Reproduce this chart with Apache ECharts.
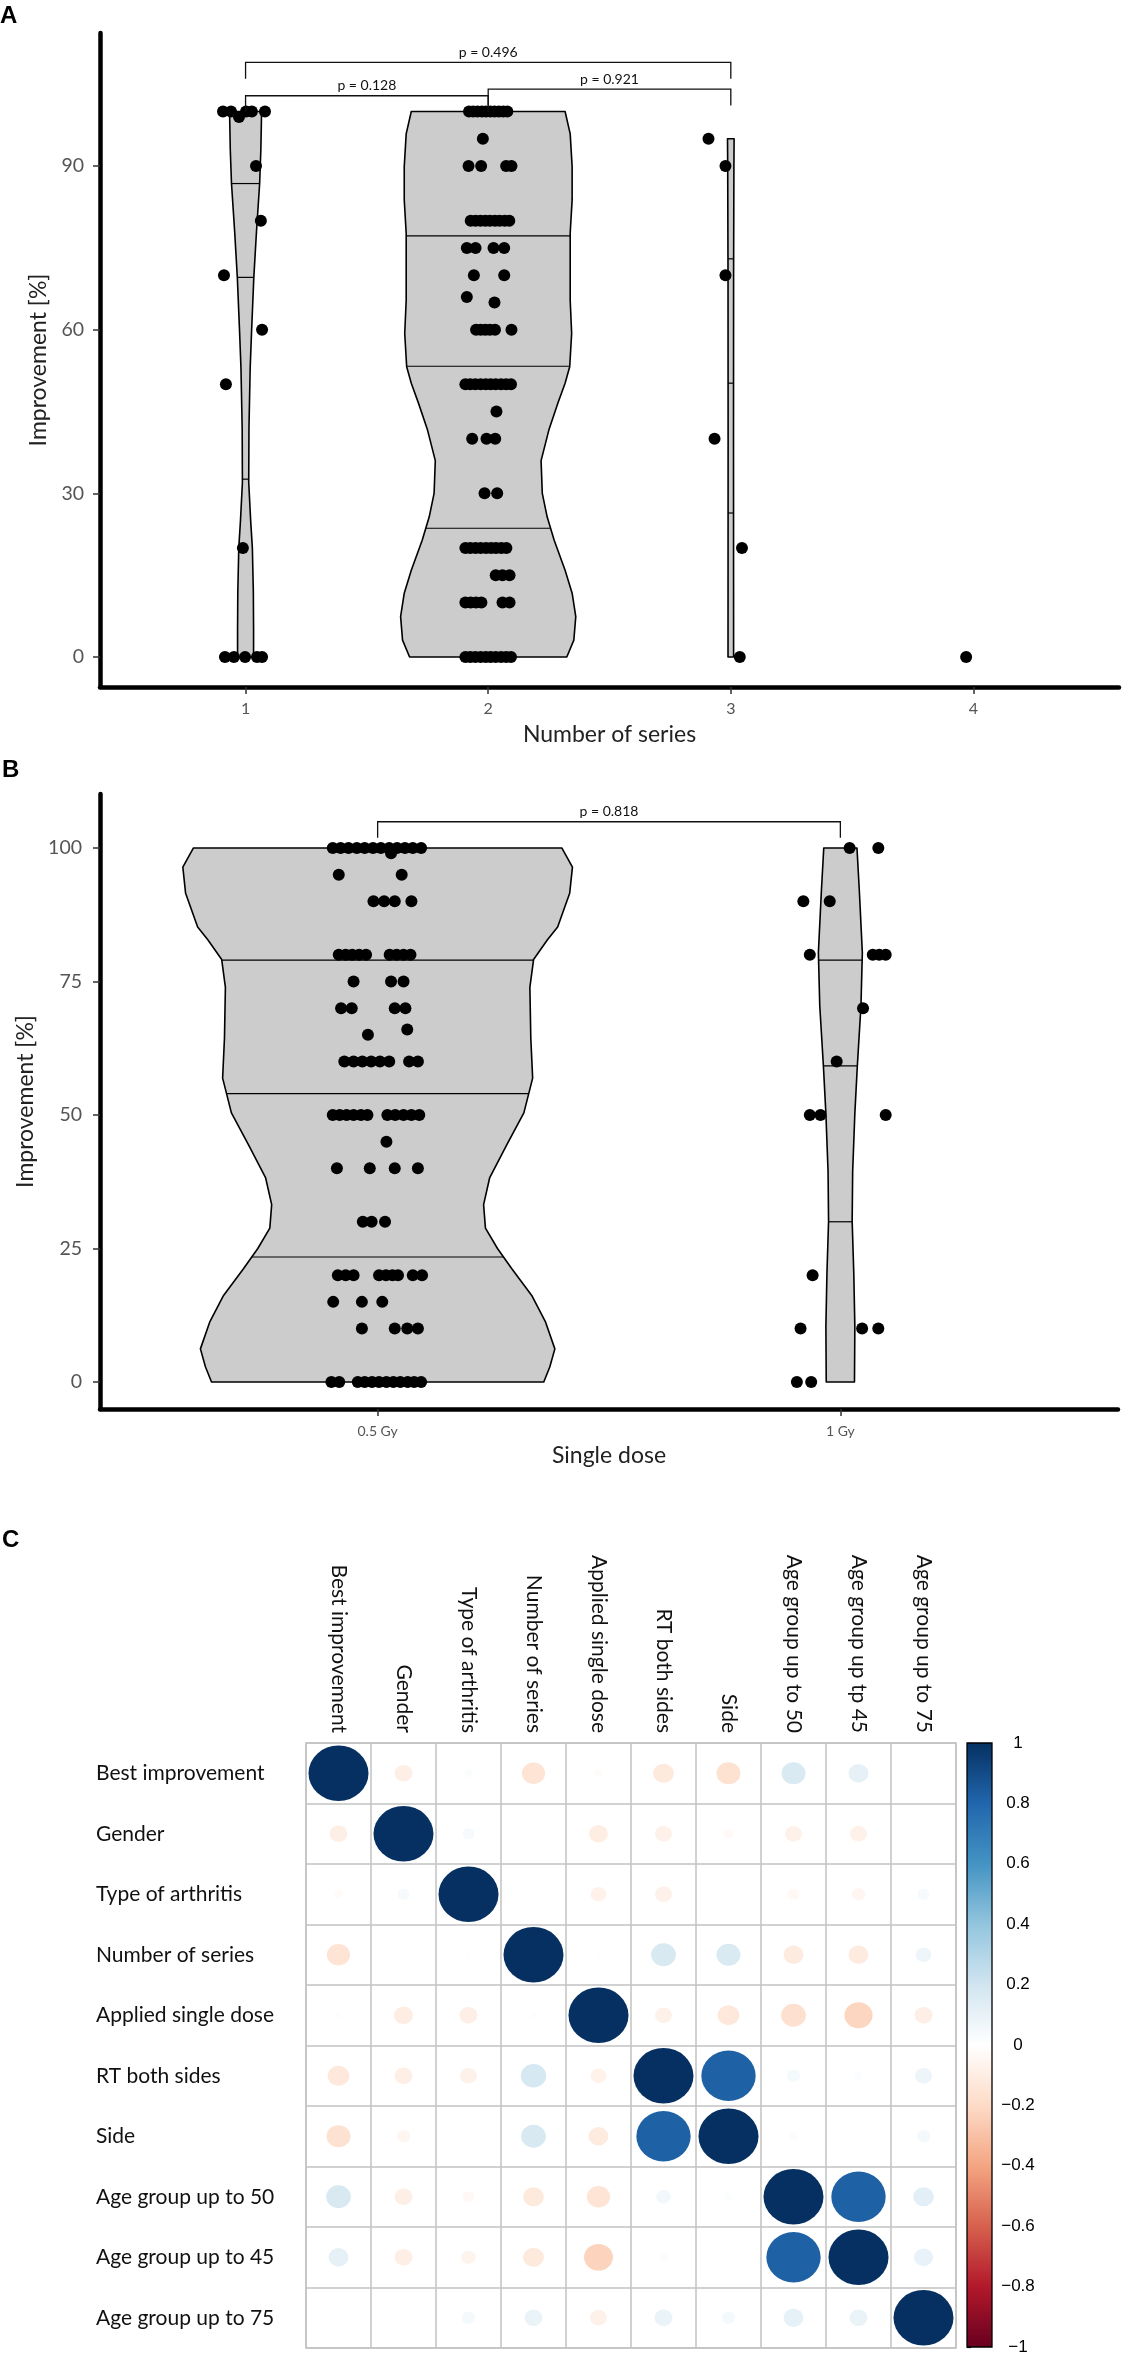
<!DOCTYPE html>
<html><head><meta charset="utf-8">
<script src="https://cdn.jsdelivr.net/npm/echarts@6/dist/echarts.min.js"></script>
<style>html,body{margin:0;padding:0;background:#fff}#c{width:1127px;height:2362px}</style>
</head><body><div id="c"></div>
<script>
// ================= DATA =================
// ---- Panel A: Number of series ----
const seriesCatsA = ['1', '2', '3', '4'];
const yTicksA = [0, 30, 60, 90];
const a1Values = [100,100,100,100,100,99,90,80,70,60,50,20,0,0,0,0,0];
const a1Jitter = [-0.093,-0.060,0.002,0.026,0.080,-0.027,0.043,0.063,-0.089,0.068,-0.081,-0.011,-0.085,-0.048,-0.002,0.047,0.068];
const a2Values = [100,100,100,100,100,100,100,100,100,100, 95, 90,90,90,90,
  80,80,80,80,80,80,80,80,80, 75,75,75,75, 70,70, 66, 65, 60,60,60,60,60,60,
  50,50,50,50,50,50,50,50,50,50, 45, 40,40,40, 30,30,
  20,20,20,20,20,20,20,20,20, 15,15,15, 10,10,10,10,10,10,
  0,0,0,0,0,0,0,0,0,0];
const a2Jitter = [-0.079,-0.062,-0.044,-0.026,-0.009,0.009,0.026,0.044,0.062,0.079, -0.022, -0.081,-0.029,0.074,0.096,
  -0.072,-0.052,-0.032,-0.012,0.007,0.028,0.047,0.068,0.087, -0.088,-0.052,0.022,0.066, -0.059,0.066, -0.088, 0.026,
  -0.050,-0.031,-0.012,0.007,0.028,0.096,
  -0.094,-0.074,-0.053,-0.031,-0.010,0.010,0.031,0.053,0.074,0.094, 0.034, -0.066,-0.007,0.029, -0.015,0.037,
  -0.094,-0.074,-0.052,-0.031,-0.009,0.012,0.032,0.054,0.075, 0.031,0.059,0.088, -0.094,-0.072,-0.050,-0.028,0.059,0.088,
  -0.094,-0.074,-0.053,-0.031,-0.010,0.010,0.031,0.053,0.074,0.094];
const a3Values = [95, 90, 70, 40, 20, 0];
const a3Jitter = [-0.092, -0.022, -0.022, -0.067, 0.046, 0.037];
const a4Values = [0];
const a4Jitter = [-0.03];
// violin outlines (level, half width in category units)
const violinA1Levels = [0, 5, 12, 20, 25, 32, 42, 53, 60, 69.6, 78, 86.8, 93, 100];
const violinA1Half = [0.033,0.033,0.032,0.028,0.021,0.013,0.014,0.019,0.025,0.034,0.045,0.058,0.063,0.066];
const violinA2Levels = [0, 3.1, 7.4, 11.7, 15.9, 21.4, 25.7, 30, 36, 41.6, 46.5, 50.2, 53.2, 59.3, 65.4, 77.7, 83.8, 89.9, 95.9, 100];
const violinA2Half = [0.324,0.353,0.361,0.346,0.317,0.272,0.243,0.223,0.218,0.250,0.287,0.317,0.336,0.344,0.338,0.338,0.346,0.346,0.338,0.317];
const violinA3Levels = [0, 40, 70, 90, 95];
const violinA3Half = [0.0115, 0.0111, 0.0115, 0.0128, 0.0136];
const quantA1 = [32.6, 69.6, 86.8];
const quantA2 = [23.6, 53.3, 77.2];
const quantA3 = [26.4, 50.2, 73];
const bracketPairsA = [[1, 2], [2, 3], [1, 3]];
const bracketYA = [102.9, 104.1, 109.0];
const bracketTextA = ['p = 0.128', 'p = 0.921', 'p = 0.496'];

// ---- Panel B: Single dose ----
const doseLabels = ['0.5 Gy', '1 Gy'];
const yTicksB = [0, 25, 50, 75, 100];
const b1Values = [100,100,100,100,100,100,100,100,100,100,100,100, 99, 95,95, 90,90,90,90,
  80,80,80,80,80,80,80,80,80, 75,75,75, 70,70,70,70, 66, 65, 60,60,60,60,60,60,60,60,
  50,50,50,50,50,50,50,50,50,50,50, 45, 40,40,40,40, 30,30,30,
  20,20,20,20,20,20,20,20,20, 15,15,15, 10,10,10,10, 0,0,0,0,0,0,0,0,0,0,0,0];
const b1Jitter = [-0.097,-0.080,-0.063,-0.045,-0.028,-0.010,0.007,0.025,0.042,0.059,0.076,0.094, 0.029, -0.084,0.052,
  -0.009,0.014,0.037,0.073,
  -0.084,-0.069,-0.055,-0.040,-0.025,0.026,0.041,0.056,0.071, -0.052,0.029,0.056, -0.079,-0.056,0.037,0.060, 0.064, -0.021,
  -0.072,-0.052,-0.033,-0.014,0.005,0.025,0.068,0.087,
  -0.097,-0.082,-0.067,-0.052,-0.036,-0.022,0.021,0.038,0.056,0.073,0.090, 0.019, -0.088,-0.017,0.037,0.087,
  -0.032,-0.013,0.016,
  -0.086,-0.069,-0.052,0.003,0.018,0.032,0.044,0.076,0.096, -0.096,-0.034,0.010, -0.034,0.037,0.064,0.087,
  -0.100,-0.083,-0.043,-0.028,-0.012,0.003,0.019,0.034,0.049,0.065,0.079,0.094];
const b2Values = [100,100,90,90,80,80,80,80,70,60,50,50,50,20,10,10,10,0,0];
const b2Jitter = [0.020,0.082,-0.080,-0.023,-0.066,0.070,0.084,0.098,0.049,-0.008,-0.066,-0.043,0.098,-0.060,-0.086,0.047,0.082,-0.094,-0.063];
const violinB1Levels = [0, 2.8, 6.2, 11.2, 16.2, 21.2, 25, 28.8, 33.2, 38.2, 44.4, 50.4, 56.9, 64.4, 73.9, 79.1, 82.8, 85.2, 91.5, 96.4, 100];
const violinB1Half = [0.359,0.372,0.383,0.363,0.333,0.290,0.259,0.233,0.229,0.242,0.279,0.316,0.335,0.331,0.329,0.337,0.367,0.389,0.415,0.421,0.398];
const violinB2Levels = [0, 10.4, 20.4, 30.1, 39.4, 50.3, 59.2, 70.4, 80.4, 91.8, 100];
const violinB2Half = [0.0305,0.0313,0.0290,0.0255,0.0266,0.0313,0.0367,0.0445,0.0475,0.0411,0.0359];
const quantB1 = [23.4, 54, 79];
const quantB2 = [30, 59.2, 79];
const bracketPairsB = [[1, 2]];
const bracketYB = [104.9];
const bracketTextB = ['p = 0.818'];

// ---- Panel C: correlation matrix ----
const colNames = ['Best improvement','Gender','Type of arthritis','Number of series','Applied single dose',
  'RT both sides','Side','Age group up to 50','Age group up tp 45','Age group up to 75'];
const rowNames = ['Best improvement','Gender','Type of arthritis','Number of series','Applied single dose',
  'RT both sides','Side','Age group up to 50','Age group up to 45','Age group up to 75'];
const corrBest    = [1, -0.09, 0.02, -0.15, -0.02, -0.12, -0.16, 0.16, 0.11, 0];
const corrGender  = [-0.09, 1, 0.04, 0, -0.10, -0.08, -0.03, -0.08, -0.08, 0];
const corrType    = [-0.02, 0.04, 1, 0.01, -0.07, -0.08, 0, -0.04, -0.05, 0.04];
const corrNumber  = [-0.15, 0, 0.01, 1, 0.01, 0.17, 0.16, -0.11, -0.11, 0.07];
const corrDose    = [-0.01, -0.10, -0.09, -0.01, 1, -0.08, -0.13, -0.17, -0.22, -0.09];
const corrRT      = [-0.13, -0.09, -0.08, 0.18, -0.07, 1, 0.82, 0.05, 0.02, 0.08];
const corrSide    = [-0.16, -0.05, 0, 0.17, -0.11, 0.82, 1, 0.02, 0.01, 0.05];
const corrAge50   = [0.17, -0.09, -0.04, -0.12, -0.15, 0.06, 0.02, 1, 0.82, 0.12];
const corrAge45   = [0.11, -0.09, -0.06, -0.12, -0.23, 0.02, 0.01, 0.82, 1, 0.10];
const corrAge75   = [0, 0, 0.05, 0.09, -0.08, 0.09, 0.05, 0.11, 0.09, 1];
const corrRows = [corrBest, corrGender, corrType, corrNumber, corrDose, corrRT, corrSide, corrAge50, corrAge45, corrAge75];
const colorbarTickLabels = ['\u22121','\u22120.8','\u22120.6','\u22120.4','\u22120.2','0','0.2','0.4','0.6','0.8','1'];
const corrPalette = ['#67001F','#B2182B','#D6604D','#F4A582','#FDDBC7','#FFFFFF','#D1E5F0','#92C5DE','#4393C3','#2166AC','#053061'];

// ================= BUILD =================
const FONT = 'Lato, "Open Sans", sans-serif';
const chart = echarts.init(document.getElementById('c'), null, {renderer: 'canvas', width: 1127, height: 2362});

function interp(xs, ys, x) {
  if (x <= xs[0]) return ys[0];
  for (let i = 1; i < xs.length; i++) {
    if (x <= xs[i]) { const t = (x - xs[i-1]) / (xs[i] - xs[i-1]); return ys[i-1] + t * (ys[i] - ys[i-1]); }
  }
  return ys[ys.length - 1];
}
function points(center, values, jitter) { return values.map((v, k) => [center + jitter[k], v]); }

function violinSeries(violins, axis) {
  return {
    type: 'custom', xAxisIndex: axis, yAxisIndex: axis, z: 2, silent: true, clip: false,
    data: violins.map(v => [v.center, v.levels[0]]), encode: {x: 0, y: 1},
    renderItem: (params, api) => {
      const v = violins[params.dataIndex];
      const pts = [];
      for (let k = 0; k < v.levels.length; k++) pts.push(api.coord([v.center + v.half[k], v.levels[k]]));
      for (let k = v.levels.length - 1; k >= 0; k--) pts.push(api.coord([v.center - v.half[k], v.levels[k]]));
      const children = [{type: 'polygon', shape: {points: pts}, style: {fill: '#cccccc', stroke: '#000', lineWidth: 1.6, lineJoin: 'round'}}];
      v.quant.forEach(q => {
        const hw = interp(v.levels, v.half, q);
        const p1 = api.coord([v.center - hw, q]), p2 = api.coord([v.center + hw, q]);
        children.push({type: 'line', shape: {x1: p1[0], y1: p1[1], x2: p2[0], y2: p2[1]}, style: {stroke: '#000', lineWidth: 1.2}});
      });
      return {type: 'group', children};
    }
  };
}
function dotSeries(data, axis) {
  return {type: 'scatter', xAxisIndex: axis, yAxisIndex: axis, z: 5, silent: true, symbol: 'circle', symbolSize: 12,
    itemStyle: {color: '#000', opacity: 1}, data};
}
function bracketSeries(pairs, ys, texts, tip, axis) {
  return {
    type: 'custom', xAxisIndex: axis, yAxisIndex: axis, z: 6, silent: true, clip: false,
    data: pairs.map((p, i) => [p[0], ys[i]]), encode: {x: 0, y: 1},
    renderItem: (params, api) => {
      const i = params.dataIndex, p = pairs[i], y = ys[i];
      const a = api.coord([p[0], y - tip]), b = api.coord([p[0], y]), c = api.coord([p[1], y]), d = api.coord([p[1], y - tip]);
      return {type: 'group', children: [
        {type: 'polyline', shape: {points: [a, b, c, d]}, style: {stroke: '#111', lineWidth: 1.3, fill: null}},
        {type: 'text', x: (b[0] + c[0]) / 2, y: b[1] - 3,
          style: {text: texts[i], fontSize: 14, fontFamily: FONT, fill: '#111', align: 'center', verticalAlign: 'bottom'}}
      ]};
    }
  };
}

const axisLineStyle = {show: true, onZero: false, lineStyle: {color: '#000', width: 4.5}};
const tickStyle = {lineStyle: {color: '#333', width: 1.5}, length: 7};

const violinsA = [
  {center: 1, levels: violinA1Levels, half: violinA1Half, quant: quantA1},
  {center: 2, levels: violinA2Levels, half: violinA2Half, quant: quantA2},
  {center: 3, levels: violinA3Levels, half: violinA3Half, quant: quantA3}
];
const violinsB = [
  {center: 1, levels: violinB1Levels, half: violinB1Half, quant: quantB1},
  {center: 2, levels: violinB2Levels, half: violinB2Half, quant: quantB2}
];

const matrixData = [];
corrRows.forEach((row, i) => row.forEach((r, j) => matrixData.push([j, i, r])));

const option = {
  backgroundColor: '#fff',
  animation: false,
  grid: [
    {left: 100, top: 33, width: 1019, height: 654, outerBoundsMode: 'none'},
    {left: 100, top: 794, width: 1018, height: 615, outerBoundsMode: 'none'},
    {left: 306, top: 1743, width: 650, height: 605, show: true, borderColor: '#c2c2c2', borderWidth: 1.5, backgroundColor: 'transparent', outerBoundsMode: 'none'},
    {left: 967, top: 1743, width: 25, height: 604, outerBoundsMode: 'none'}
  ],
  xAxis: [
    {gridIndex: 0, type: 'value', min: 0.4, max: 4.6, axisLine: axisLineStyle, splitLine: {show: false},
      axisTick: Object.assign({customValues: [1, 2, 3, 4]}, tickStyle),
      axisLabel: {customValues: [1, 2, 3, 4], formatter: v => seriesCatsA[Math.round(v) - 1], fontSize: 16, color: '#555', fontFamily: FONT, margin: 14},
      name: 'Number of series', nameLocation: 'middle', nameGap: 36,
      nameTextStyle: {fontSize: 23, color: '#222', fontFamily: FONT}},
    {gridIndex: 1, type: 'value', min: 0.4, max: 2.6, axisLine: axisLineStyle, splitLine: {show: false},
      axisTick: Object.assign({customValues: [1, 2]}, tickStyle),
      axisLabel: {customValues: [1, 2], formatter: v => doseLabels[Math.round(v) - 1], fontSize: 14, color: '#555', fontFamily: FONT, margin: 15},
      name: 'Single dose', nameLocation: 'middle', nameGap: 35,
      nameTextStyle: {fontSize: 23, color: '#222', fontFamily: FONT}},
    {gridIndex: 2, type: 'category', data: colNames, position: 'top', boundaryGap: true,
      axisLine: {show: false}, axisTick: {show: false},
      splitLine: {show: true, interval: 0, lineStyle: {color: '#c2c2c2', width: 1.5}},
      axisLabel: {interval: 0, rotate: 90, margin: 10, fontSize: 21, color: '#111', fontFamily: FONT}},
    {gridIndex: 3, type: 'value', min: 0, max: 1, show: false}
  ],
  yAxis: [
    {gridIndex: 0, type: 'value', min: -5.5, max: 114.4, axisLine: axisLineStyle, splitLine: {show: false},
      axisTick: Object.assign({customValues: yTicksA}, tickStyle),
      axisLabel: {customValues: yTicksA, fontSize: 19.5, color: '#555', fontFamily: FONT, margin: 16},
      name: 'Improvement [%]', nameLocation: 'middle', nameGap: 48,
      nameTextStyle: {fontSize: 23, color: '#222', fontFamily: FONT}},
    {gridIndex: 1, type: 'value', min: -5.06, max: 110.1, axisLine: axisLineStyle, splitLine: {show: false},
      axisTick: Object.assign({customValues: yTicksB}, tickStyle),
      axisLabel: {customValues: yTicksB, fontSize: 19.5, color: '#555', fontFamily: FONT, margin: 18},
      name: 'Improvement [%]', nameLocation: 'middle', nameGap: 62,
      nameTextStyle: {fontSize: 23, color: '#222', fontFamily: FONT}},
    {gridIndex: 2, type: 'category', data: rowNames, inverse: true, boundaryGap: true,
      axisLine: {show: false}, axisTick: {show: false},
      splitLine: {show: true, interval: 0, lineStyle: {color: '#c2c2c2', width: 1.5}},
      axisLabel: {interval: 0, align: 'left', margin: 210, fontSize: 21, color: '#111', fontFamily: FONT}},
    {gridIndex: 3, type: 'value', min: -1, max: 1, interval: 0.2, position: 'right',
      axisLine: {show: false}, splitLine: {show: false},
      axisTick: {show: true, length: 4, lineStyle: {color: '#000', width: 1.2}},
      axisLabel: {align: 'center', margin: 26, fontSize: 17, color: '#000', fontFamily: '"Liberation Sans", Arial, sans-serif',
        formatter: v => colorbarTickLabels[Math.round((v + 1) * 5)]}}
  ],
  visualMap: [{type: 'continuous', show: false, min: -1, max: 1, dimension: 2, seriesIndex: 9, inRange: {color: corrPalette}}],
  series: [
    violinSeries(violinsA, 0),                               // 0
    dotSeries(points(1, a1Values, a1Jitter), 0),             // 1
    dotSeries(points(2, a2Values, a2Jitter), 0),             // 2
    dotSeries(points(3, a3Values, a3Jitter), 0),             // 3
    dotSeries(points(4, a4Values, a4Jitter), 0),             // 4
    bracketSeries(bracketPairsA, bracketYA, bracketTextA, 3, 0), // 5
    violinSeries(violinsB, 1),                               // 6
    dotSeries(points(1, b1Values, b1Jitter).concat(points(2, b2Values, b2Jitter)), 1), // 7
    bracketSeries(bracketPairsB, bracketYB, bracketTextB, 3, 1), // 8
    {type: 'scatter', xAxisIndex: 2, yAxisIndex: 2, z: 4, silent: true, symbol: 'circle', data: matrixData,  // 9
      itemStyle: {opacity: 1},
      symbolSize: val => { const s = Math.sqrt(Math.abs(val[2])); return [60 * s, 55.5 * s]; }},
    {type: 'custom', xAxisIndex: 3, yAxisIndex: 3, silent: true, clip: false, data: [[0, -1]], encode: {x: 0, y: 1}, // 10
      renderItem: (params, api) => {
        const p1 = api.coord([0, 1]), p2 = api.coord([1, -1]);
        const stops = corrPalette.slice().reverse().map((c, k) => ({offset: k / (corrPalette.length - 1), color: c}));
        return {type: 'rect', shape: {x: p1[0], y: p1[1], width: p2[0] - p1[0], height: p2[1] - p1[1]},
          style: {fill: new echarts.graphic.LinearGradient(0, 0, 0, 1, stops), stroke: '#000', lineWidth: 1.3}};
      }}
  ],
  graphic: [
    {type: 'text', left: 0, top: 4, style: {text: 'A', fontSize: 24, fontWeight: 'bold', fontFamily: '"Liberation Sans", Arial, sans-serif', fill: '#000'}},
    {type: 'text', left: 2, top: 758, style: {text: 'B', fontSize: 24, fontWeight: 'bold', fontFamily: '"Liberation Sans", Arial, sans-serif', fill: '#000'}},
    {type: 'text', left: 2, top: 1528, style: {text: 'C', fontSize: 24, fontWeight: 'bold', fontFamily: '"Liberation Sans", Arial, sans-serif', fill: '#000'}}
  ]
};
chart.setOption(option);
</script>
</body></html>
